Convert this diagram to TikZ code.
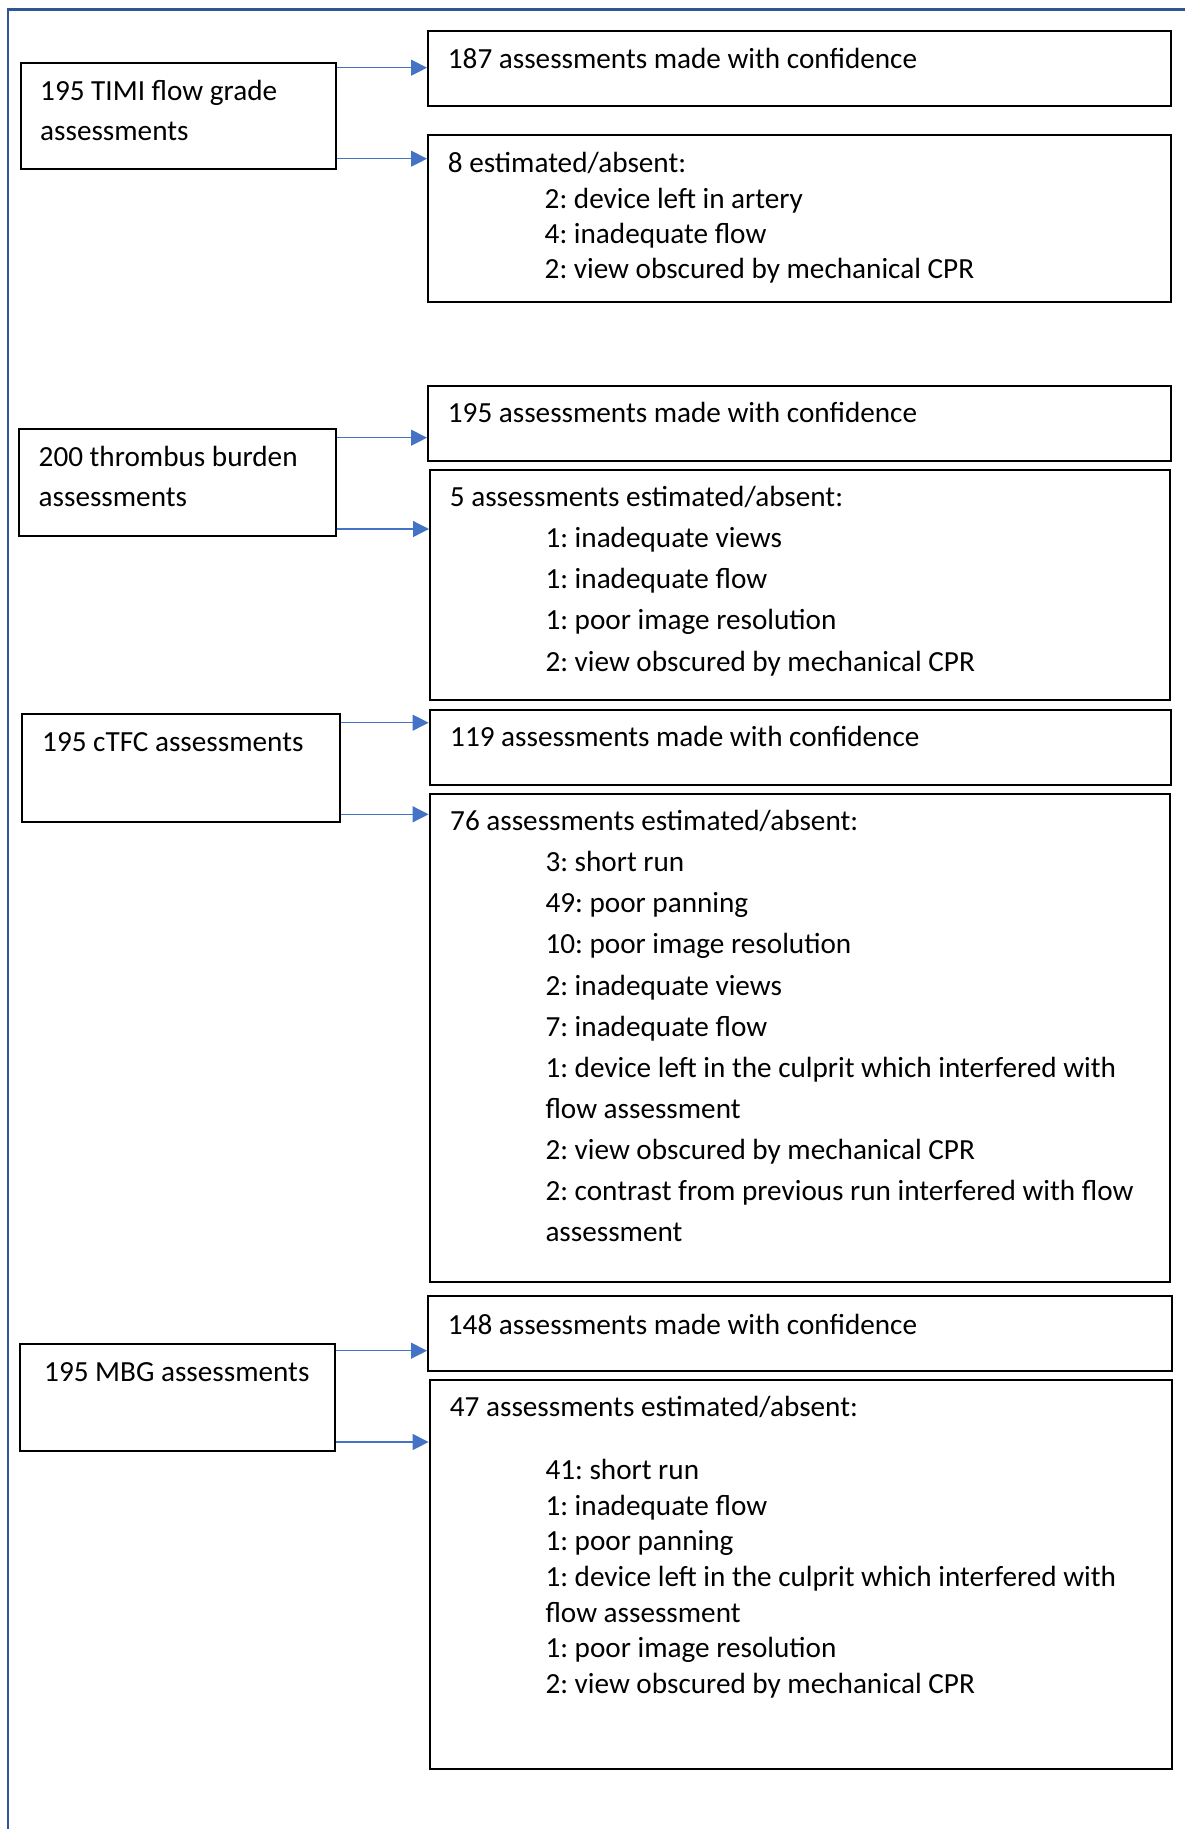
\documentclass[tikz,border=0pt]{standalone}
\usepackage{fontspec}
\setmainfont{Carlito}
\usetikzlibrary{arrows.meta}
\frenchspacing

\definecolor{framecol}{RGB}{47,85,151}
\definecolor{arrowcol}{RGB}{68,114,196}

\tikzset{
  panel/.style={draw=black, line width=2pt, inner sep=0pt, anchor=north west},
  txt/.style={inner sep=0pt, anchor=base west, font=\fontsize{29.2pt}{35pt}\selectfont},
  arr/.style={draw=arrowcol, line width=1.3pt, -{Triangle[length=16pt,width=16pt]}},
  frame/.style={draw=framecol, line width=2.4pt},
}

% list text with a fixed line pitch, first baseline at the node's base
\newcommand\reasons[2]{\parbox[t]{700pt}{\fontsize{29.2pt}{#1}\selectfont #2}}

\begin{document}
\begin{tikzpicture}[x=1pt, y=-1pt]
\useasboundingbox (0,0) rectangle (1185,1829);

% outer frame (top and left edges)
\draw[frame] (7.7,1829) -- (7.7,9.5) -- (1185,9.5);

% ---------- TIMI flow grade ----------
\node[panel, minimum width=315pt, minimum height=106pt] (timi) at (19.5,62) {};
\node[txt] (timiT) at (40,100) {\parbox[t]{290pt}{\fontsize{29.2pt}{40.7pt}\selectfont 195 TIMI flow grade\\assessments}};
\node[panel, minimum width=743pt, minimum height=75.5pt] (a1) at (427,29.5) {};
\node[txt] (a1T) at (447.7,68.3) {187 assessments made with confidence};
\node[panel, minimum width=743pt, minimum height=167pt] (a2) at (427,134) {};
\node[txt] (a2T) at (447.7,172.3) {8 estimated/absent:};
\node[txt] (a2L) at (544.5,208.3) {\reasons{35pt}{2: device left in artery\\4: inadequate flow\\2: view obscured by mechanical CPR}};
\coordinate (ya1) at (0,67.7);
\coordinate (ya2) at (0,158.7);
\draw[arr] (timi.east |- ya1) -- (a1.west |- ya1);
\draw[arr] (timi.east |- ya2) -- (a2.west |- ya2);

% ---------- thrombus burden ----------
\node[panel, minimum width=317pt, minimum height=107pt] (thr) at (17.5,428) {};
\node[txt] (thrT) at (38.5,466.7) {\parbox[t]{290pt}{\fontsize{29.2pt}{40pt}\selectfont 200 thrombus burden\\assessments}};
\node[panel, minimum width=743pt, minimum height=75.5pt] (b1) at (427,384.5) {};
\node[txt] (b1T) at (447.7,422.7) {195 assessments made with confidence};
\node[panel, minimum width=739.5pt, minimum height=230pt] (b2) at (429,469) {};
\node[txt] (b2T) at (449.7,506.7) {5 assessments estimated/absent:};
\node[txt] (b2L) at (545.3,547.5) {\reasons{41.2pt}{1: inadequate views\\1: inadequate flow\\1: poor image resolution\\2: view obscured by mechanical CPR}};
\coordinate (yb1) at (0,437.7);
\coordinate (yb2) at (0,529);
\draw[arr] (thr.east |- yb1) -- (b1.west |- yb1);
\draw[arr] (thr.east |- yb2) -- (b2.west |- yb2);

% ---------- cTFC ----------
\node[panel, minimum width=317.5pt, minimum height=107.5pt] (ctfc) at (21,713) {};
\node[txt] (ctfcT) at (42,751.7) {195 cTFC assessments};
\node[panel, minimum width=741.4pt, minimum height=75pt] (c1) at (428.6,709) {};
\node[txt] (c1T) at (450,746.7) {119 assessments made with confidence};
\node[panel, minimum width=739.9pt, minimum height=487.7pt] (c2) at (428.6,793.3) {};
\node[txt] (c2T) at (450,830) {76 assessments estimated/absent:};
\node[txt] (c2L) at (545.3,871.7) {\reasons{41.1pt}{3: short run\\49: poor panning\\10: poor image resolution\\2: inadequate views\\7: inadequate flow\\1: device left in the culprit which interfered with\\flow assessment\\2: view obscured by mechanical CPR\\2: contrast from previous run interfered with flow\\assessment}};
\coordinate (yc1) at (0,722.7);
\coordinate (yc2) at (0,814.3);
\draw[arr] (ctfc.east |- yc1) -- (c1.west |- yc1);
\draw[arr] (ctfc.east |- yc2) -- (c2.west |- yc2);

% ---------- MBG ----------
\node[panel, minimum width=315pt, minimum height=107pt] (mbg) at (19,1343) {};
\node[txt] (mbgT) at (44,1381.5) {195 MBG assessments};
\node[panel, minimum width=743.5pt, minimum height=75pt] (d1) at (427,1295) {};
\node[txt] (d1T) at (447.7,1334.3) {148 assessments made with confidence};
\node[panel, minimum width=742.4pt, minimum height=388.8pt] (d2) at (428.6,1378.7) {};
\node[txt] (d2T) at (449.7,1416.6) {47 assessments estimated/absent:};
\node[txt] (d2L) at (545.3,1479.6) {\reasons{35.6pt}{41: short run\\1: inadequate flow\\1: poor panning\\1: device left in the culprit which interfered with\\flow assessment\\1: poor image resolution\\2: view obscured by mechanical CPR}};
\coordinate (yd1) at (0,1350.7);
\coordinate (yd2) at (0,1442);
\draw[arr] (mbg.east |- yd1) -- (d1.west |- yd1);
\draw[arr] (mbg.east |- yd2) -- (d2.west |- yd2);
\end{tikzpicture}
\end{document}
